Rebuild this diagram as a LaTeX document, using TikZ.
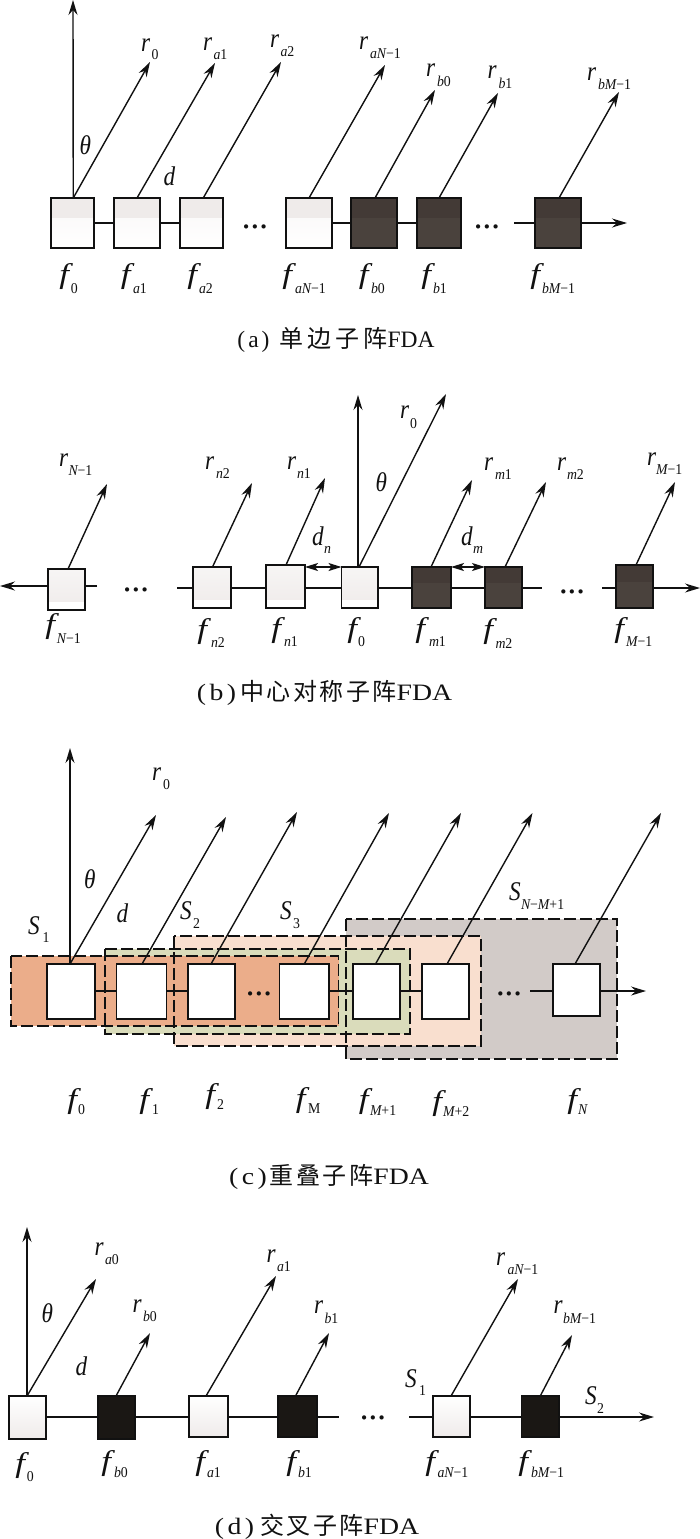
\documentclass[tikz,border=0pt]{standalone}
\usepackage{fontspec}
\usepackage{graphicx}
\setmainfont{Liberation Serif}
\newfontfamily\cjk{Noto Sans CJK SC}
\usetikzlibrary{arrows.meta,calc}
\definecolor{pale}{HTML}{EFEBEA}
\definecolor{darkA}{HTML}{433A36}
\definecolor{darkB}{HTML}{4A423D}
\definecolor{blackbox}{HTML}{1A1714}
\definecolor{ink}{HTML}{111111}
\definecolor{sOne}{HTML}{EBAD8A}
\definecolor{sTwo}{HTML}{DADCBB}
\definecolor{sThree}{HTML}{F9DFCF}
\definecolor{sFour}{HTML}{D2CBC8}
\tikzset{
  box/.style={draw=ink,line width=1.5pt,inner sep=0,outer sep=0,fill=white},
  paleA/.style={box,path picture={
    \fill[top color=pale!40!white,bottom color=white] (path picture bounding box.south west) rectangle (path picture bounding box.north east);
    \fill[pale] (path picture bounding box.north west) rectangle ($(path picture bounding box.north east)!0.4!(path picture bounding box.south east)$);}},
  paleB/.style={box,path picture={
    \fill[top color=pale!50!white,bottom color=pale] (path picture bounding box.north west) rectangle ($(path picture bounding box.north east)!0.8!(path picture bounding box.south east)$);}},
  paleD/.style={box,path picture={
    \fill[top color=white,bottom color=pale] (path picture bounding box.south west) rectangle (path picture bounding box.north east);}},
  darkbox/.style={box,fill=darkB,path picture={
    \fill[darkA] (path picture bounding box.north west) rectangle ($(path picture bounding box.north east)!0.4!(path picture bounding box.south east)$);}},
  blackb/.style={box,fill=blackbox},
  whitebox/.style={box},
  zone/.style={inner sep=0,outer sep=0,draw=none},
  zoneline/.style={draw=ink,line width=1.3pt,dash pattern=on 12pt off 4pt,inner sep=0,outer sep=0},
  wire/.style={draw=ink,line width=1.4pt},
  beam/.style={draw=ink,line width=1.4pt,-{Stealth[length=15pt,width=9pt,inset=5pt]}},
  twoway/.style={draw=ink,line width=1.4pt,{Stealth[length=13pt,width=8pt,inset=3pt]}-{Stealth[length=13pt,width=8pt,inset=3pt]}},
  lab/.style={anchor=base west,inner sep=0,outer sep=0,text=ink},
  captext/.style={anchor=center,inner sep=0,outer sep=0,text=ink},
  dotsn/.style={anchor=base,inner sep=0,outer sep=0,text=ink,yshift=-10pt}
}
% box: style,name,x0,x1,y0,y1
\newcommand{\bx}[6]{%
  \pgfmathsetmacro{\cxx}{(#3+#4)/2}\pgfmathsetmacro{\cyy}{(#5+#6)/2}%
  \pgfmathsetmacro{\wdd}{#4-#3}\pgfmathsetmacro{\htt}{#6-#5}%
  \node[#1,minimum width=\wdd pt,minimum height=\htt pt] (#2) at (\cxx,\cyy) {};}
% label: name,x,y,letter,dx,dy,sub
\newcommand{\symr}[7]{\node[lab] (#1) at (#2,#3) {\rlap{\scalebox{0.86}[1]{\fontsize{27}{27}\selectfont\itshape #4}}\hspace{#5pt}\raisebox{-#6pt}{\scalebox{0.92}[1]{\fontsize{15}{15}\selectfont #7}}};}
\newcommand{\ff}{\hspace{0.5pt}\scalebox{1.5}[1.05]{f}}
% beam: box,dx,tipx,tipy
\newcommand{\bm}[4]{\coordinate (#1-tip) at (#3,#4);\draw[beam] ([xshift=#2pt]#1.north) -- (#1-tip);}
% caption: name,x,y,letter,chars1,chars2,kern,xscale,gap
\newcommand{\capt}[9]{\node[captext] (#1) at (#2,#3) {\fontsize{23.5}{26}\selectfont \scalebox{#8}[1]{(\kern3pt#4\kern3pt)}\kern#9pt{\cjk\fontsize{24}{26}\selectfont #5\kern#7pt#6\kern#7pt子\kern#7pt阵}\scalebox{#8}[1]{FDA}};}
\newcommand{\dts}[3]{\node[dotsn] (#1) at (#2,#3) {\fontsize{26}{26}\selectfont\bfseries ···};}
\begin{document}
\begin{tikzpicture}[x=1pt,y=-1pt]
\useasboundingbox (0,0) rectangle (700,1539);
\fill[white] (0,0) rectangle (700,1539);
% ===== panel a
\coordinate (la) at (0,223);
\coordinate (laS) at (514,223);
\coordinate (laE) at (627,223);
\coordinate (axisA) at (73,0);
\bx{paleA}{A0}{51}{94}{198}{248}
\bx{paleA}{A1}{114}{160}{198}{248}
\bx{paleA}{A2}{180}{223}{198}{248}
\bx{paleA}{AN}{286}{332}{198}{248}
\bx{darkbox}{B0}{351}{397}{198}{248}
\bx{darkbox}{B1}{417}{461}{198}{248}
\bx{darkbox}{BM}{535}{581}{198}{248}
\draw[wire] (A0.east |- la) -- (A1.west |- la);
\draw[wire] (A1.east |- la) -- (A2.west |- la);
\draw[wire] (AN.east |- la) -- (B0.west |- la);
\draw[wire] (B0.east |- la) -- (B1.west |- la);
\draw[wire] (laS) -- (BM.west |- la);
\draw[beam] (BM.east |- la) -- (laE);
\draw[beam] ([xshift=0.75pt]A0.north) -- (axisA);
\coordinate (A0-tip) at (150,62);\draw[beam] ([xshift=0.75pt]A0.north) -- (A0-tip);
\bm{A1}{0}{215}{63}
\bm{A2}{1.75}{281}{62}
\bm{AN}{0}{385}{65}
\bm{B0}{1}{435}{90}
\bm{B1}{0}{498}{93}
\bm{BM}{1}{619}{92}
\dts{dotsA1}{255}{225}
\dts{dotsA2}{487}{225}
\symr{rA0}{141}{51}{r}{10.5}{8.5}{0}
\symr{rA1}{203}{50}{r}{10.5}{9}{{\it a}1}
\symr{rA2}{270}{47}{r}{10.5}{9.5}{{\it a}2}
\symr{rAN}{359}{49}{r}{11}{9}{{\it aN}−1}
\symr{rB0}{426}{76}{r}{11}{10}{{\it b}0}
\symr{rB1}{487.5}{78}{r}{11}{10}{{\it b}1}
\symr{rBM}{587}{80}{r}{11}{9}{{\it bM}−1}
\symr{thA}{79}{154}{θ}{0}{0}{}
\symr{dA}{163}{185}{d}{0}{0}{}
\symr{fA0}{59}{283}{\ff}{12}{10}{0}
\symr{fA1}{120.5}{283}{\ff}{12.5}{10}{{\it a}1}
\symr{fA2}{187}{283}{\ff}{12}{10}{{\it a}2}
\symr{fAN}{282}{283}{\ff}{13}{10}{{\it aN}−1}
\symr{fB0}{358.5}{283}{\ff}{12.5}{10}{{\it b}0}
\symr{fB1}{421}{283}{\ff}{12}{10}{{\it b}1}
\symr{fBM}{530}{283}{\ff}{12}{10}{{\it bM}−1}
\capt{capA}{336}{340}{a}{单}{边}{4}{1}{10}
% ===== panel b
\coordinate (lb) at (0,588);
\coordinate (lbL) at (0,586);
\coordinate (lbLs) at (97,586);
\coordinate (lbS) at (177,588);
\coordinate (lbM) at (541.5,588);
\coordinate (lbT) at (602,588);
\coordinate (lbE) at (700,588);
\coordinate (axisB) at (358,395);
\bx{paleB}{NN}{48}{85}{569}{610}
\bx{paleB}{N2}{193}{231}{567}{608}
\bx{paleB}{N1}{266}{305}{565}{608}
\bx{paleB}{F0}{341.5}{378}{567}{608}
\bx{darkbox}{M1}{412}{451}{567}{608}
\bx{darkbox}{M2}{485}{522}{567}{608}
\bx{darkbox}{MM}{616}{653}{565}{608}
\draw[wire] (lbLs) -- (NN.east |- lbL);
\draw[beam] (NN.west |- lbL) -- (lbL);
\draw[wire] (lbS) -- (N2.west |- lb);
\draw[wire] (N2.east |- lb) -- (N1.west |- lb);
\draw[wire] (N1.east |- lb) -- (F0.west |- lb);
\draw[wire] (F0.east |- lb) -- (M1.west |- lb);
\draw[wire] (M1.east |- lb) -- (M2.west |- lb);
\draw[wire] (M2.east |- lb) -- (lbM);
\draw[wire] (lbT) -- (MM.west |- lb);
\draw[beam] (MM.east |- lb) -- (lbE);
\draw[beam] ([xshift=-1.75pt]F0.north) -- (axisB);
\coordinate (F0-tip) at (446,394);\draw[beam] ([xshift=-0.75pt]F0.north) -- (F0-tip);
\bm{NN}{1.5}{107}{484}
\bm{N2}{0.5}{252}{483}
\bm{N1}{0.5}{325}{478}
\bm{M1}{-0.5}{472}{480}
\bm{M2}{1.5}{546}{482}
\bm{MM}{1.5}{675}{482}
\coordinate (ldy) at (0,567);
\draw[twoway] (N1.east |- ldy) -- (F0.west |- ldy);
\draw[twoway] (M1.east |- ldy) -- (M2.west |- ldy);
\dts{dotsB1}{136}{588}
\dts{dotsB2}{572}{590}
\symr{rNN}{59}{466}{r}{9.5}{9}{{\it N}−1}
\symr{rN2}{205}{469}{r}{11}{9}{{\it n}2}
\symr{rN1}{287}{469}{r}{10}{9}{{\it n}1}
\symr{rF0}{400}{418}{r}{10}{10}{0}
\symr{thB}{375}{491}{θ}{0}{0}{}
\symr{rM1}{484}{470}{r}{11}{9}{{\it m}1}
\symr{rM2}{557}{470}{r}{10}{9}{{\it m}2}
\symr{rMM}{647}{465}{r}{9}{9}{{\it M}−1}
\symr{dN}{312}{545}{d}{12}{8}{{\it n}}
\symr{dM}{461}{545}{d}{12}{8}{{\it m}}
\symr{fNN}{45}{633}{\ff}{12}{10}{{\it N}−1}
\symr{fN2}{197}{638}{\ff}{14}{9}{{\it n}2}
\symr{fN1}{271}{637}{\ff}{13}{9}{{\it n}1}
\symr{fF0}{347}{637}{\ff}{11}{9}{0}
\symr{fM1}{415}{637}{\ff}{14}{9}{{\it m}1}
\symr{fM2}{483}{638}{\ff}{12.5}{10}{{\it m}2}
\symr{fMM}{614}{637}{\ff}{12}{9}{{\it M}−1}
\capt{capB}{324.5}{693}{b}{中\kern2.5pt心}{对\kern2.5pt称}{2.5}{1.18}{4}
% ===== panel c
\coordinate (lc) at (0,991);
\coordinate (lcS) at (530,991);
\coordinate (lcE) at (646,991);
\coordinate (axisC) at (70,748);
\bx{zone,fill=sFour}{ZN}{346}{617}{919}{1059}
\bx{zone,fill=sThree}{Z3}{174}{481}{936}{1046}
\bx{zone,fill=sTwo}{Z2}{105}{410}{949}{1034}
\bx{zone,fill=sOne}{Z1}{11}{338.5}{956}{1026}
\draw[zoneline] (ZN.north west) rectangle (ZN.south east);
\draw[zoneline] (Z3.north west) rectangle (Z3.south east);
\draw[zoneline] (Z2.north west) rectangle (Z2.south east);
\draw[zoneline] (Z1.north west) rectangle (Z1.south east);
\bx{whitebox}{C0}{47}{95}{964}{1019}
\bx{whitebox}{C1}{116.5}{166.5}{964}{1019}
\bx{whitebox}{C2}{188}{235}{964}{1019}
\bx{whitebox}{CM}{279.5}{329}{964}{1019}
\bx{whitebox}{CP}{353}{400}{964}{1019}
\bx{whitebox}{CQ}{422}{469}{964}{1019}
\bx{whitebox}{CN}{553}{600}{964}{1016}
\draw[wire] (C0.east |- lc) -- (C1.west |- lc);
\draw[wire] (C1.east |- lc) -- (C2.west |- lc);
\draw[wire] (CM.east |- lc) -- (CP.west |- lc);
\draw[wire] (CP.east |- lc) -- (CQ.west |- lc);
\draw[wire] (lcS) -- (CN.west |- lc);
\draw[beam] (CN.east |- lc) -- (lcE);
\draw[beam] ([xshift=-1pt]C0.north) -- (axisC);
\coordinate (C0-tip) at (156,815);\draw[beam] ([xshift=-1pt]C0.north) -- (C0-tip);
\bm{C1}{0.5}{226}{817}
\bm{C2}{-0.5}{297}{812}
\bm{CM}{0}{389}{813}
\bm{CP}{-1}{461}{813}
\bm{CQ}{1.5}{532.5}{813}
\bm{CN}{-1.5}{661}{813}
\dts{dotsC1}{259}{992}
\dts{dotsC2}{509}{992}
\symr{rC0}{152}{780}{r}{11}{9}{0}
\symr{thC}{83.5}{888}{θ}{0}{0}{}
\symr{dC}{116}{922}{d}{0}{0}{}
\symr{s1}{28}{934}{S}{14.5}{8}{1}
\symr{s2}{180}{919}{S}{13}{9}{2}
\symr{s3}{280}{919}{S}{13}{9}{3}
\symr{sN}{509}{900}{S}{12}{9}{{\it N}−{\it M}+1}
\symr{fC0}{67}{1108}{\ff}{11}{6}{0}
\symr{fC1}{139}{1108}{\ff}{13}{6}{1}
\symr{fC2}{205}{1103}{\ff}{12}{6}{2}
\symr{fCM}{295.5}{1107}{\ff}{12.5}{6}{M}
\symr{fCP}{358.5}{1108}{\ff}{11.5}{7}{{\it M}+1}
\symr{fCQ}{432}{1110}{\ff}{11}{6}{{\it M}+2}
\symr{fCN}{567}{1108}{\ff}{11}{6}{{\it N}}
\capt{capC}{329}{1177}{c}{重}{叠}{2.5}{1.18}{3}
% ===== panel d
\coordinate (ld) at (0,1417);
\coordinate (ldM) at (339,1417);
\coordinate (ldS) at (409,1417);
\coordinate (ldE) at (654,1417);
\coordinate (axisD) at (27,1227);
\bx{paleD}{D0}{9}{46}{1396}{1439}
\bx{blackb}{E0}{98}{135}{1396}{1439}
\bx{paleD}{D1}{189}{228}{1396}{1437}
\bx{blackb}{E1}{278}{317}{1396}{1437}
\bx{paleD}{DN}{433}{470}{1396}{1437}
\bx{blackb}{EM}{521.5}{559}{1396}{1437}
\draw[wire] (D0.east |- ld) -- (E0.west |- ld);
\draw[wire] (E0.east |- ld) -- (D1.west |- ld);
\draw[wire] (D1.east |- ld) -- (E1.west |- ld);
\draw[wire] (E1.east |- ld) -- (ldM);
\draw[wire] (ldS) -- (DN.west |- ld);
\draw[wire] (DN.east |- ld) -- (EM.west |- ld);
\draw[beam] (EM.east |- ld) -- (ldE);
\draw[beam] ([xshift=-0.5pt]D0.north) -- (axisD);
\bm{D0}{-0.5}{96}{1279}
\bm{E0}{-0.5}{150}{1333}
\bm{D1}{-2.5}{276}{1276}
\bm{E1}{-2}{329}{1333}
\bm{DN}{-0.5}{518}{1279}
\bm{EM}{0}{572}{1335}
\dts{dotsD}{373}{1416}
\symr{rD0}{94.5}{1255}{r}{10.5}{9}{{\it a}0}
\symr{rE0}{132.5}{1312}{r}{10.5}{9}{{\it b}0}
\symr{rD1}{266.5}{1262}{r}{10.5}{9}{{\it a}1}
\symr{rE1}{314}{1313}{r}{10.5}{10}{{\it b}1}
\symr{rDN}{496}{1265}{r}{11.5}{9}{{\it aN}−1}
\symr{rEM}{553.5}{1313}{r}{9.5}{10}{{\it bM}−1}
\symr{thD}{41}{1322}{θ}{0}{0}{}
\symr{dD}{75}{1375}{d}{0}{0}{}
\symr{sD1}{405}{1387}{S}{14}{8}{1}
\symr{sD2}{585}{1404}{S}{12}{9}{2}
\symr{fD0}{15}{1472}{\ff}{12}{9}{0}
\symr{fE0}{101}{1470}{\ff}{13}{7}{{\it b}0}
\symr{fD1}{195}{1470}{\ff}{12}{7}{{\it a}1}
\symr{fE1}{286}{1470}{\ff}{12}{7}{{\it b}1}
\symr{fDN}{425}{1470}{\ff}{12.5}{7}{{\it aN}−1}
\symr{fEM}{518}{1470}{\ff}{13}{7}{{\it bM}−1}
\capt{capD}{317}{1527}{d}{交}{叉}{2.5}{1.18}{6}
\end{tikzpicture}
\end{document}
